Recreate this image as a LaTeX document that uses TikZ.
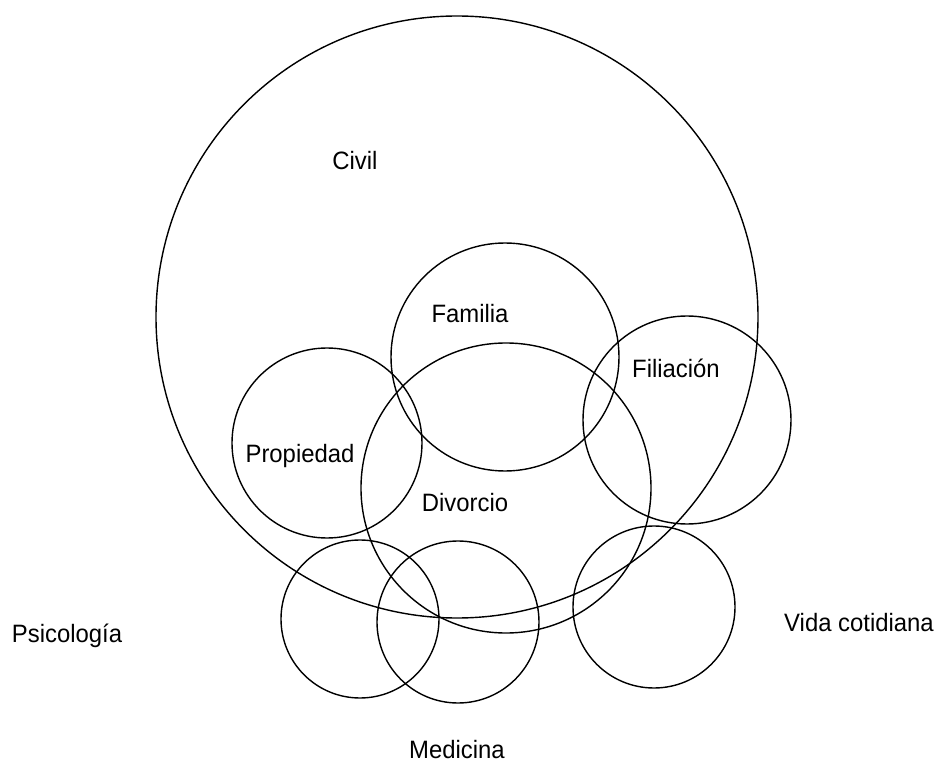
\documentclass[tikz,border=0pt]{standalone}
\usepackage{fontspec}
\setmainfont[FakeStretch=0.95]{Liberation Sans}
\tikzset{
    ring/.style={line width=0.8pt, black},
    area/.style={font=\fontsize{14.3}{17}\selectfont, inner sep=0pt}
}

\begin{document}
\begin{tikzpicture}
    \useasboundingbox (0,0) rectangle (18.78,15.4);
    % Circulos
    \coordinate (cCivil) at (9.14,9.06);
    \coordinate (cFam) at (10.10,8.26);
    \coordinate (cDiv) at (10.12,5.64);
    \coordinate (cFil) at (13.74,7.00);
    \coordinate (cProp) at (6.54,6.54);
    \coordinate (cPsi) at (7.20,3.02);
    \coordinate (cMed) at (9.16,2.96);
    \coordinate (cVida) at (13.08,3.26);
    \draw[ring] (cCivil) circle (6.02);
    \draw[ring] (cFam) circle (2.28);
    \draw[ring] (cDiv) circle (2.90);
    \draw[ring] (cFil) circle (2.08);
    \draw[ring] (cProp) circle (1.90);
    \draw[ring] (cPsi) circle (1.58);
    \draw[ring] (cMed) circle (1.62);
    \draw[ring] (cVida) circle (1.62);
    % Rotulos
    \node[area] (civil) at (7.10,12.18) {Civil};
    \node[area] (familia) at (9.40,9.12) {Familia};
    \node[area] (filiacion) at (13.52,8.04) {Filiación};
    \node[area] (propiedad) at (6.00,6.28) {Propiedad};
    \node[area] (divorcio) at (9.30,5.34) {Divorcio};
    \node[area] (psicologia) at (1.34,2.68) {Psicología};
    \node[area] (vida) at (17.18,2.94) {Vida cotidiana};
    \node[area] (medicina) at (9.14,0.40) {Medicina};
\end{tikzpicture}
\end{document}
